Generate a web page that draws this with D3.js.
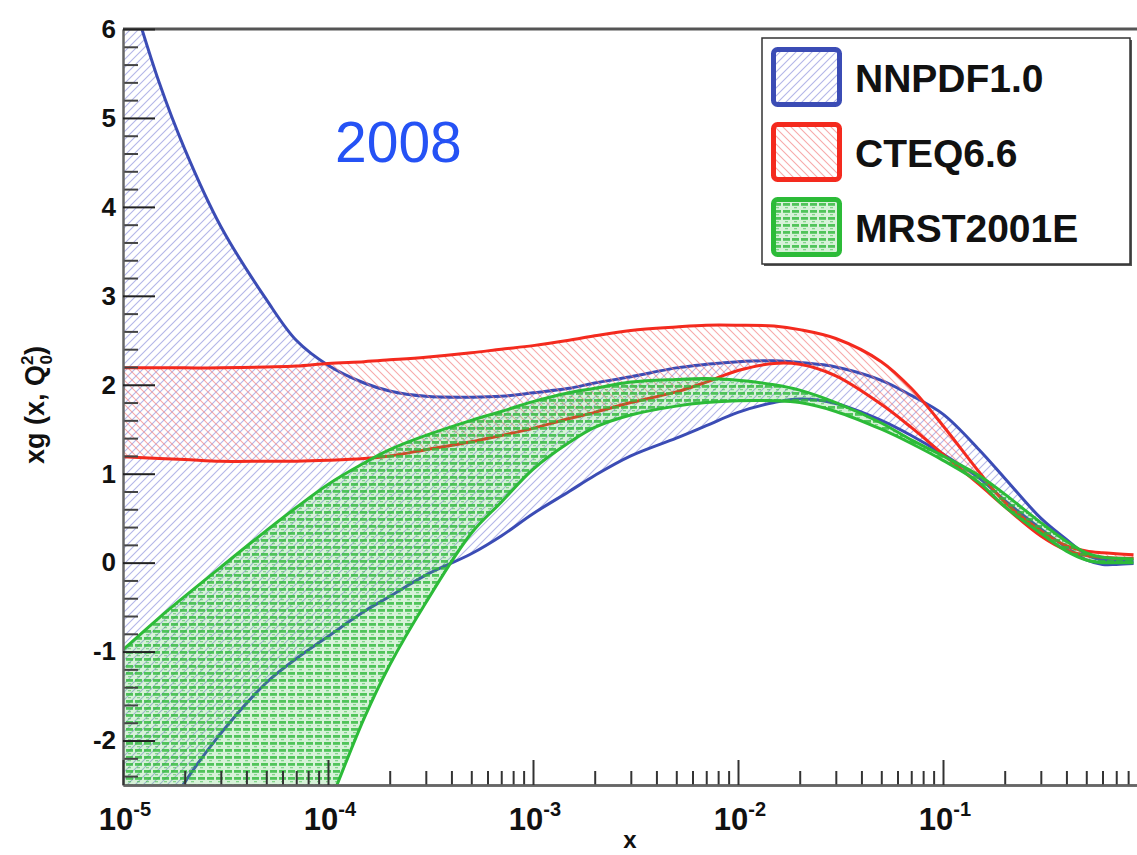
<!DOCTYPE html>
<html>
<head>
<meta charset="utf-8">
<script src="https://cdn.jsdelivr.net/npm/d3@7"></script>
<style>
  html, body { margin: 0; padding: 0; background: #fff; }
  svg { display: block; }
  text { font-family: "Liberation Sans", Arial, Helvetica, sans-serif; }
</style>
</head>
<body>
<svg id="chart" width="1137" height="855"></svg>
<script>
// Gluon distribution xg(x, Q0^2): upper/lower edges of each PDF uncertainty band
const xValues = [1e-5, 1.5e-5, 2e-5, 3e-5, 5e-5, 7e-5, 1e-4, 1.5e-4, 2e-4, 3e-4, 5e-4, 7e-4,
  1e-3, 1.5e-3, 2e-3, 3e-3, 5e-3, 7e-3, 1e-2, 1.5e-2, 2e-2, 3e-2, 5e-2, 7e-2,
  0.1, 0.15, 0.2, 0.3, 0.4, 0.5, 0.6, 0.7, 0.85];

const nnpdfHi = [6.7, 5.4, 4.65, 3.78, 2.96, 2.5, 2.22, 2.02, 1.93, 1.87, 1.86, 1.87,
  1.91, 1.96, 2.02, 2.09, 2.19, 2.23, 2.26, 2.27, 2.25, 2.2, 2.05, 1.88,
  1.67, 1.27, 0.95, 0.5, 0.26, 0.09, 0.03, 0.02, 0.02];
const nnpdfLo = [-3.7, -2.95, -2.47, -1.92, -1.35, -1.08, -0.83, -0.55, -0.38, -0.14, 0.1, 0.3,
  0.55, 0.8, 0.98, 1.2, 1.4, 1.54, 1.69, 1.8, 1.84, 1.79, 1.6, 1.43,
  1.22, 0.95, 0.7, 0.38, 0.17, 0.03, -0.02, -0.02, -0.01];

const cteqHi = [2.19, 2.19, 2.19, 2.19, 2.2, 2.21, 2.24, 2.26, 2.28, 2.31, 2.36, 2.4,
  2.44, 2.5, 2.55, 2.61, 2.65, 2.67, 2.67, 2.66, 2.62, 2.52, 2.26, 1.96,
  1.54, 1.02, 0.68, 0.36, 0.19, 0.13, 0.11, 0.1, 0.09];
const cteqLo = [1.19, 1.17, 1.16, 1.14, 1.14, 1.14, 1.15, 1.17, 1.2, 1.27, 1.36, 1.43,
  1.51, 1.62, 1.69, 1.8, 1.92, 2.03, 2.16, 2.24, 2.23, 2.1, 1.78, 1.52,
  1.22, 0.88, 0.63, 0.3, 0.14, 0.08, 0.06, 0.05, 0.05];

const mrstHi = [-0.98, -0.62, -0.38, -0.05, 0.36, 0.62, 0.88, 1.12, 1.27, 1.43, 1.6, 1.7,
  1.81, 1.91, 1.96, 2.03, 2.06, 2.07, 2.05, 2.0, 1.94, 1.8, 1.57, 1.38,
  1.2, 0.98, 0.77, 0.45, 0.24, 0.11, 0.06, 0.05, 0.04];
const mrstLo = [-9, -8, -7, -5.8, -4.5, -3.6, -2.75, -1.75, -1.15, -0.45, 0.33, 0.68,
  1.05, 1.35, 1.52, 1.66, 1.76, 1.8, 1.82, 1.82, 1.8, 1.7, 1.5, 1.34,
  1.15, 0.9, 0.63, 0.33, 0.13, 0.03, 0.0, 0.0, 0.0];

const seriesNames = ["NNPDF1.0", "CTEQ6.6", "MRST2001E"];
const yTickValues = [-2, -1, 0, 1, 2, 3, 4, 5, 6];
const xTickExponents = [-5, -4, -3, -2, -1];

const W = 1137, H = 855;
const plot = { left: 123, top: 29, bottom: 785, right: 1148 };

const svg = d3.select("#chart");
svg.append("rect").attr("width", W).attr("height", H).attr("fill", "#fff");

const x = d3.scaleLog().domain([1e-5, 1]).range([plot.left, plot.right]);
const y = d3.scaleLinear().domain([-2.5, 6]).range([plot.bottom, plot.top]);

const defs = svg.append("defs");
defs.append("clipPath").attr("id", "plotClip")
  .append("rect").attr("x", plot.left).attr("y", plot.top)
  .attr("width", plot.right - plot.left).attr("height", plot.bottom - plot.top);

// hatch fills
const pBlue = defs.append("pattern").attr("id", "hatchBlue")
  .attr("patternUnits", "userSpaceOnUse").attr("width", 8).attr("height", 8);
pBlue.append("path").attr("d", "M-2,2 l4,-4 M0,8 l8,-8 M6,10 l4,-4")
  .attr("stroke", "#8085d8").attr("stroke-width", 1.1).attr("stroke-opacity", 0.6);

const pRed = defs.append("pattern").attr("id", "hatchRed")
  .attr("patternUnits", "userSpaceOnUse").attr("width", 8).attr("height", 8);
pRed.append("path").attr("d", "M-2,6 l4,4 M0,0 l8,8 M6,-2 l4,4")
  .attr("stroke", "#f27c7c").attr("stroke-width", 1.1).attr("stroke-opacity", 0.65);

const pGreen = defs.append("pattern").attr("id", "hatchGreen")
  .attr("patternUnits", "userSpaceOnUse").attr("width", 9).attr("height", 7);
pGreen.append("rect").attr("width", 9).attr("height", 7).attr("fill", "#44c24f").attr("fill-opacity", 0.22);
pGreen.append("rect").attr("x", 0).attr("y", 0).attr("width", 7).attr("height", 2.8)
  .attr("fill", "#2eb83b").attr("fill-opacity", 0.8);
pGreen.append("rect").attr("x", 2).attr("y", 4).attr("width", 3).attr("height", 1.3)
  .attr("fill", "#2eb83b").attr("fill-opacity", 0.5);

const bands = [
  { name: seriesNames[0], hi: nnpdfHi, lo: nnpdfLo, color: "#3b4cb5", fill: "url(#hatchBlue)" },
  { name: seriesNames[1], hi: cteqHi, lo: cteqLo, color: "#f42a1e", fill: "url(#hatchRed)" },
  { name: seriesNames[2], hi: mrstHi, lo: mrstLo, color: "#2cbb38", fill: "url(#hatchGreen)" }
];

const gPlot = svg.append("g").attr("clip-path", "url(#plotClip)");
const curve = d3.curveCatmullRom.alpha(0.5);

bands.forEach(b => {
  const pts = xValues.map((xv, i) => ({ x: xv, hi: b.hi[i], lo: b.lo[i] }));
  const area = d3.area().x(d => x(d.x)).y0(d => y(d.lo)).y1(d => y(d.hi)).curve(curve);
  const lineHi = d3.line().x(d => x(d.x)).y(d => y(d.hi)).curve(curve);
  const lineLo = d3.line().x(d => x(d.x)).y(d => y(d.lo)).curve(curve);
  gPlot.append("path").datum(pts).attr("d", area).attr("fill", b.fill);
  gPlot.append("path").datum(pts).attr("d", lineHi).attr("fill", "none")
    .attr("stroke", b.color).attr("stroke-width", 3);
  gPlot.append("path").datum(pts).attr("d", lineLo).attr("fill", "none")
    .attr("stroke", b.color).attr("stroke-width", 3);
});

// frame: top edge
svg.append("line").attr("x1", plot.left).attr("x2", W).attr("y1", plot.top).attr("y2", plot.top)
  .attr("stroke", "#555").attr("stroke-width", 3);

// y axis
const fmtY = v => String(v).replace("\u2212", "-");
const yMinor = d3.range(-24, 61, 2).map(v => v / 10).filter(v => !Number.isInteger(v));
const gY = svg.append("g").attr("transform", `translate(${plot.left},0)`);
gY.call(d3.axisLeft(y).tickValues(yMinor).tickSizeInner(-15).tickSizeOuter(0).tickFormat(""));
gY.selectAll(".tick line").attr("stroke", "#444").attr("stroke-width", 2);
const gY2 = svg.append("g").attr("transform", `translate(${plot.left},0)`);
gY2.call(d3.axisLeft(y).tickValues(yTickValues).tickSizeInner(-32).tickSizeOuter(0)
  .tickPadding(7).tickFormat(fmtY));
gY2.selectAll(".tick line").attr("stroke", "#222").attr("stroke-width", 2);
gY2.selectAll(".tick text").attr("font-size", 26).attr("font-weight", "bold").attr("fill", "#111")
  .attr("font-family", "Liberation Sans, Arial, sans-serif");
[gY, gY2].forEach(g => g.select(".domain").attr("stroke", "#666").attr("stroke-width", 2));

// x axis (log)
const xAllTicks = x.ticks().filter(v => v < 1);
const xMajor = xTickExponents.map(e => Math.pow(10, e));
const xMinor = xAllTicks.filter(v => !xMajor.some(m => Math.abs(m - v) / m < 1e-6));
const gX = svg.append("g").attr("transform", `translate(0,${plot.bottom})`);
gX.call(d3.axisBottom(x).tickValues(xMinor).tickSizeInner(-14).tickSizeOuter(0).tickFormat(""));
gX.selectAll(".tick line").attr("stroke", "#333").attr("stroke-width", 2);
const gX2 = svg.append("g").attr("transform", `translate(0,${plot.bottom})`);
gX2.call(d3.axisBottom(x).tickValues(xMajor).tickSizeInner(-25).tickSizeOuter(0).tickFormat(""));
gX2.selectAll(".tick line").attr("stroke", "#333").attr("stroke-width", 2);
[gX, gX2].forEach(g => g.select(".domain").attr("stroke", "#666").attr("stroke-width", 2.5));

// x tick labels as 10^n
xTickExponents.forEach(e => {
  const t = svg.append("text").attr("x", x(Math.pow(10, e)) + 2).attr("y", 830)
    .attr("text-anchor", "middle").attr("font-size", 31).attr("font-weight", "bold").attr("fill", "#111");
  t.append("tspan").text("10");
  t.append("tspan").attr("font-size", 20).attr("dy", -14).text(String(e));
});

// axis titles
svg.append("text").attr("x", 630).attr("y", 848).attr("text-anchor", "middle")
  .attr("font-size", 24).attr("font-weight", "bold").attr("fill", "#111").text("x");

const yTitle = svg.append("text").attr("transform", "translate(44,405) rotate(-90)")
  .attr("text-anchor", "middle").attr("font-size", 27).attr("font-weight", "bold").attr("fill", "#111");
yTitle.append("tspan").text("xg (x, Q");
yTitle.append("tspan").attr("font-size", 17).attr("dy", -11).text("2");
yTitle.append("tspan").attr("font-size", 17).attr("dx", -9).attr("dy", 19).text("0");
yTitle.append("tspan").attr("dy", -8).text(")");

// year annotation
svg.append("text").attr("x", 335).attr("y", 162).attr("font-size", 57)
  .attr("font-family", "Open Sans, Noto Sans, sans-serif").attr("fill", "#2552f5").text("2008");

// legend
const leg = { x: 762, y: 38, w: 368, h: 226 };
svg.append("rect").attr("x", leg.x + 2).attr("y", leg.y + 2).attr("width", leg.w).attr("height", leg.h)
  .attr("fill", "#555");
svg.append("rect").attr("x", leg.x).attr("y", leg.y).attr("width", leg.w).attr("height", leg.h)
  .attr("fill", "#fff").attr("stroke", "#333").attr("stroke-width", 1.5);

const rowTops = [49.5, 124.5, 199.5];
bands.forEach((b, i) => {
  svg.append("rect").attr("x", 773.5).attr("y", rowTops[i]).attr("width", 66).attr("height", 55)
    .attr("rx", 4).attr("fill", b.fill).attr("stroke", b.color).attr("stroke-width", 5);
  svg.append("text").attr("x", 855).attr("y", rowTops[i] + 42).attr("font-size", 39)
    .attr("font-weight", "bold").attr("fill", "#111").text(b.name);
});
</script>
</body>
</html>
